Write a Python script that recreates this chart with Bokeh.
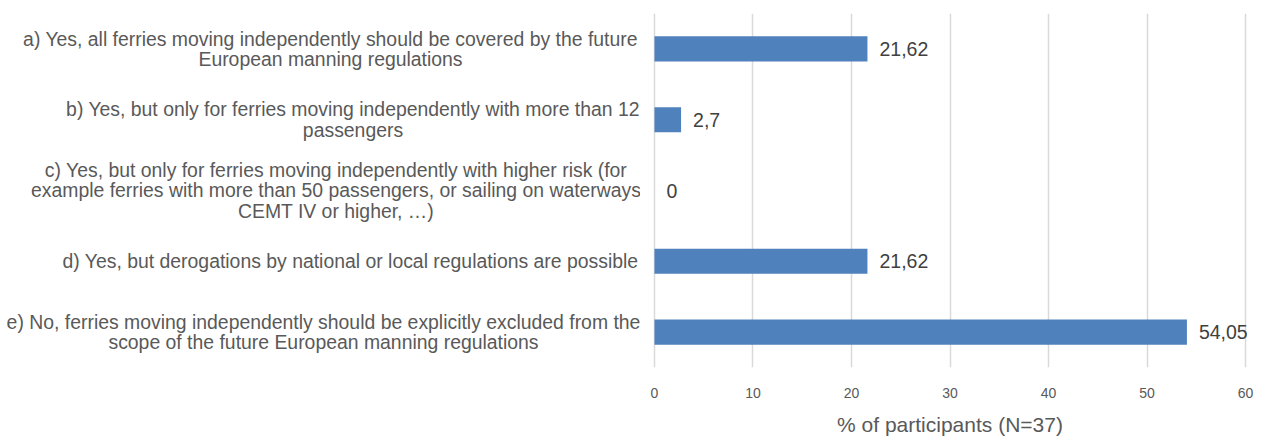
from bokeh.plotting import figure
from bokeh.layouts import row
from bokeh.models import Range1d, ColumnDataSource, FixedTicker
from bokeh.core.properties import value
from bokeh.embed import file_html
from bokeh.resources import INLINE

categories = [
    "a) Yes, all ferries moving independently should be covered by the future\nEuropean manning regulations",
    "b) Yes, but only for ferries moving independently with more than 12\npassengers",
    "c) Yes, but only for ferries moving independently with higher risk (for\nexample ferries with more than 50 passengers, or sailing on waterways\nCEMT IV or higher, \u2026)",
    "d) Yes, but derogations by national or local regulations are possible",
    "e) No, ferries moving independently should be explicitly excluded from the\nscope of the future European manning regulations",
]
values = [21.62, 2.7, 0, 21.62, 54.05]
x_ticks = [0, 10, 20, 30, 40, 50, 60]
x_title = "% of participants (N=37)"

FONT = "Liberation Sans"
n = len(categories)
ys = [n - 1 - i for i in range(n)]
labels = [("%g" % v).replace(".", ",") for v in values]

TOP = 13
FRAME_H = 354
LEFT_W = 640

# ---- left panel: category labels ----
pl = figure(width=LEFT_W, height=440, output_backend="svg", toolbar_location=None,
            x_range=Range1d(0, LEFT_W), y_range=Range1d(-0.5, n - 0.5),
            x_axis_location=None, y_axis_location=None,
            frame_width=LEFT_W, frame_height=FRAME_H,
            min_border_left=0, min_border_right=0, min_border_top=TOP,
            min_border_bottom=440 - TOP - FRAME_H)
pl.outline_line_color = None
pl.grid.grid_line_color = None
pl.border_fill_color = "white"
# block centres in pixels from the left edge of the chart
centers = [330, 352.5, 335.5, 350, 323]
lsrc = ColumnDataSource(dict(x=centers, y=ys, t=categories))
pl.text(x="x", y="y", text="t", source=lsrc, text_align="center",
        text_baseline="middle", text_font=value(FONT), text_font_size="19.4px",
        text_color="#595959", text_line_height=0.93)

# ---- right panel: bars ----
p = figure(width=1271 - LEFT_W, height=440, output_backend="svg", toolbar_location=None,
           x_range=Range1d(-0.2, 60.2), y_range=pl.y_range,
           y_axis_location=None, frame_width=595, frame_height=FRAME_H,
           min_border_left=12, min_border_right=24,
           min_border_top=TOP, min_border_bottom=0)
p.outline_line_color = None
p.background_fill_color = "white"
p.border_fill_color = "white"

src = ColumnDataSource(dict(y=ys, v=values, lab=labels))
p.hbar(y="y", right="v", left=0, height=0.355, source=src,
       fill_color="#4f81bd", line_color=None)
p.text(x="v", y="y", text="lab", source=src, x_offset=12,
       text_align="left", text_baseline="middle",
       text_font=value(FONT), text_font_size="19.5px", text_color="#404040")

ax = p.xaxis[0]
ax.ticker = FixedTicker(ticks=x_ticks)
ax.axis_line_color = None
ax.major_tick_line_color = None
ax.minor_tick_line_color = None
ax.major_tick_out = 0
ax.major_tick_in = 0
ax.major_label_standoff = 20
ax.major_label_text_font = FONT
ax.major_label_text_font_size = "14px"
ax.major_label_text_color = "#595959"
ax.axis_label = x_title
ax.axis_label_standoff = 12
ax.axis_label_text_font = FONT
ax.axis_label_text_font_size = "21px"
ax.axis_label_text_font_style = "normal"
ax.axis_label_text_color = "#595959"

p.xgrid.grid_line_color = "#d9d9d9"
p.xgrid.grid_line_width = 1.5
p.ygrid.grid_line_color = None

layout = row(pl, p, spacing=0)
open("out.html", "w").write(file_html(layout, INLINE))
